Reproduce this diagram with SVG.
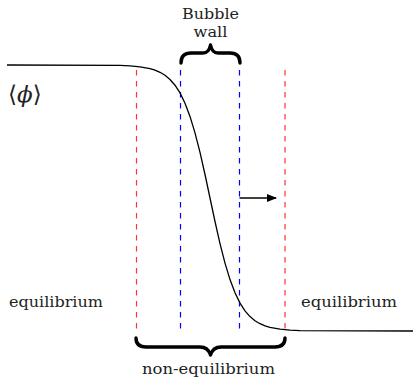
<svg xmlns="http://www.w3.org/2000/svg" width="413" height="377" viewBox="0 0 413 377">
<defs>
<style>
.lbl{font-family:'DejaVu Serif','Liberation Serif',serif;font-size:15px;fill:#222}
.red{stroke:#ff3333;stroke-width:1.2;stroke-dasharray:5.5 5.5;fill:none}
.blue{stroke:#0000ff;stroke-width:1.2;stroke-dasharray:5.5 5.5;fill:none}
.brace{stroke:#000;stroke-width:3.4;fill:none;stroke-linecap:round;stroke-linejoin:round}
</style>
<marker id="ah" markerWidth="10" markerHeight="8" refX="9" refY="4" orient="auto" markerUnits="userSpaceOnUse">
<path d="M0,0 L10,4 L0,8 Z" fill="#000"/>
</marker>
</defs>
<rect width="413" height="377" fill="#fff"/>
<g id="guides">
<line class="red" x1="136.5" y1="70" x2="136.5" y2="332"/>
<line class="red" x1="285" y1="70" x2="285" y2="332"/>
<line class="blue" x1="180.5" y1="70" x2="180.5" y2="332"/>
<line class="blue" x1="239.5" y1="70" x2="239.5" y2="332"/>
</g>
<g id="profile">
<polyline fill="none" stroke="#000" stroke-width="1.3" stroke-linejoin="round" points="7,65 120,65.4 130,65.9 140,66.8 150,68.6 155,70.1 160,72.3 165,75.3 170,79.5 175,85.2 180,92.9 185,103.2 190,116.4 195,132.9 200,152.4 205,174.5 210,198 215,221.5 220,243.6 225,263.1 230,279.6 235,292.8 240,303.1 245,310.8 250,316.6 255,320.7 260,323.7 265,325.9 270,327.4 280,329.2 290,330.1 300,330.6 413,331"/>
</g>
<g id="connectors">
<line x1="239.5" y1="198" x2="276" y2="198" stroke="#000" stroke-width="1.4" marker-end="url(#ah)"/>
</g>
<g id="wall-brace">
<path class="brace" d="M181,63 Q181,53 191,53 L203,53 Q209,53 210.5,45 Q212,53 218,53 L230,53 Q240,53 240,63"/>
<text class="lbl" x="210.5" y="19" text-anchor="middle" textLength="57" lengthAdjust="spacingAndGlyphs">Bubble</text>
<text class="lbl" x="210.5" y="37" text-anchor="middle" textLength="34" lengthAdjust="spacingAndGlyphs">wall</text>
</g>
<g id="noneq-brace">
<path class="brace" d="M136,338 Q136,347 146,347 L200,347 Q208,347 210.5,355 Q213,347 221,347 L275,347 Q285,347 285,338"/>
<text class="lbl" x="208.5" y="374" text-anchor="middle" textLength="133" lengthAdjust="spacingAndGlyphs">non-equilibrium</text>
</g>
<g id="eq-left">
<text class="lbl" x="9" y="307" textLength="94" lengthAdjust="spacingAndGlyphs">equilibrium</text>
</g>
<g id="eq-right">
<text class="lbl" x="301" y="307" textLength="96" lengthAdjust="spacingAndGlyphs">equilibrium</text>
</g>
<g id="phi-label">
<text x="8" y="102" font-family="'DejaVu Serif', serif" font-size="23" fill="#222">⟨<tspan font-style="italic">ϕ</tspan>⟩</text>
</g>
</svg>
